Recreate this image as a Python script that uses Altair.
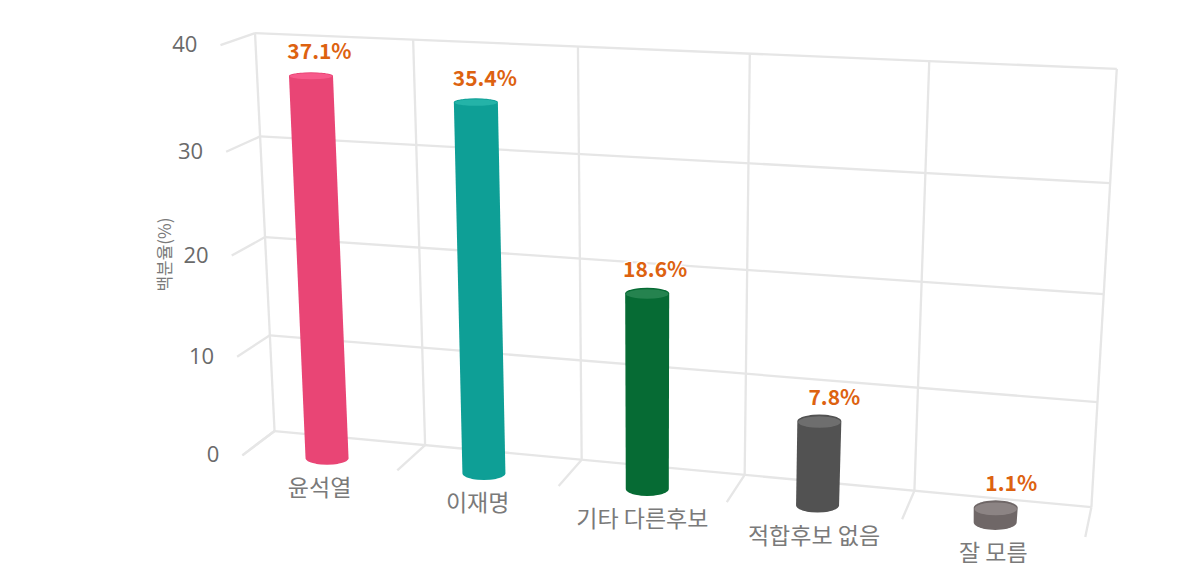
import numpy as np
import pandas as pd
import altair as alt

# ---- data
CATEGORIES = ["윤석열", "이재명", "기타 다른후보", "적합후보 없음", "잘 모름"]
VALUES = [37.1, 35.4, 18.6, 7.8, 1.1]
VALUE_LABELS = ["37.1%", "35.4%", "18.6%", "7.8%", "1.1%"]
BODY_COLORS = ["#E94575", "#0E9F96", "#066B34", "#525252", "#6F6767"]
TOP_COLORS = ["#F7598A", "#24B3A8", "#25834F", "#6E6E6E", "#8C8484"]
Y_TICKS = [0, 10, 20, 30, 40]
AXIS_TITLE = "백분율(%)"

# ---- style
FONT = "Noto Sans CJK KR"
TICK_FONT = "Open Sans"
GRID = "#E6E6E6"
TEXT = "#7A7A7A"
TICK_TEXT = "#6A6A6A"
ORANGE = "#DD6210"
W, H = 1184, 564
DEPTH = 0.74      # depth of the cylinders between back wall (0) and front edge (1)
R_DEPTH = 0.26    # cylinder radius along the depth axis
HALF_W = 22.0     # cylinder half-width in screen units
LABEL_SHIFT = [8.5, 9, 8, 15, 15.5]

# ---- camera: (category position, value, depth) -> screen, calibrated on the drawn box
calib = [
    ((0, 40, 0), (255, 31)), ((1, 40, 0), (413, 39)), ((2, 40, 0), (578, 47)),
    ((3, 40, 0), (750, 56)), ((4, 40, 0), (929, 60)), ((5, 40, 0), (1116, 68)),
    ((0, 0, 0), (275, 431)), ((1, 0, 0), (425, 444)), ((2, 0, 0), (582, 460)),
    ((3, 0, 0), (744, 475)), ((4, 0, 0), (914, 491)), ((5, 0, 0), (1092, 507)),
    ((0, 0, 1), (243, 456)), ((1, 0, 1), (397, 470)), ((2, 0, 1), (559, 486)),
    ((3, 0, 1), (726, 502)), ((4, 0, 1), (902, 518)), ((5, 0, 1), (1086, 537)),
    ((0, 30, 0), (260, 137)), ((5, 30, 0), (1110, 184)),
    ((0, 20, 0), (265, 238)), ((5, 20, 0), (1104, 295)),
    ((0, 10, 0), (270, 335)), ((5, 10, 0), (1098, 402)),
    ((0, 40, 1), (222, 43)), ((0, 30, 1), (226, 154)), ((0, 20, 1), (231, 257)),
    ((0, 10, 1), (236, 356)),
]
A, b = [], []
for (u, v, d), (sx, sy) in calib:
    A.append([u, v, d, 1, 0, 0, 0, 0, -sx * u, -sx * v, -sx * d])
    b.append(sx)
    A.append([0, 0, 0, 0, u, v, d, 1, -sy * u, -sy * v, -sy * d])
    b.append(sy)
m = np.linalg.lstsq(np.array(A, float), np.array(b, float), rcond=None)[0]
P = np.append(m, 1.0).reshape(3, 4)


def project(u, v, d):
    q = P @ np.array([u, v, d, 1.0])
    return q[0] / q[2], q[1] / q[2]


# ---- grid
segments = []
for i in range(len(CATEGORIES) + 1):
    segments.append((project(i, 0, 0), project(i, 40, 0)))
    segments.append((project(i, 0, 0), project(i, 0, 1)))
for t in Y_TICKS:
    segments.append((project(0, t, 0), project(5, t, 0)))
    segments.append((project(0, t, 0), project(0, t, 1)))
grid_df = pd.DataFrame(
    [{"x": a[0], "y": a[1], "x2": c[0], "y2": c[1]} for a, c in segments]
)

# ---- cylinders
theta = np.linspace(0, 1, 25)
body_rows, top_rows, label_rows = [], [], []
for i, (val, bc, tc) in enumerate(zip(VALUES, BODY_COLORS, TOP_COLORS)):
    u = i + 0.5
    xb, yb = project(u, 0, DEPTH)
    xt, yt = project(u, val, DEPTH)
    ryb = abs(project(u, 0, DEPTH + R_DEPTH)[1] - project(u, 0, DEPTH - R_DEPTH)[1]) / 2
    ryt = abs(project(u, val, DEPTH + R_DEPTH)[1] - project(u, val, DEPTH - R_DEPTH)[1]) / 2
    yb += 2.0
    yt -= 0.7
    hwb, hwt = HALF_W - 0.5, HALF_W
    # outline: top half ellipse, straight sides, bottom half ellipse
    for s in theta:
        y = yt - ryt * (1 - s)
        half = hwt * np.sqrt(max(0.0, 1 - (1 - s) ** 2))
        body_rows.append({"y": y, "xl": xt - half, "xr": xt + half, "c": bc})
    for s in theta:
        y = yb + ryb * s
        half = hwb * np.sqrt(max(0.0, 1 - s ** 2))
        body_rows.append({"y": y, "xl": xb - half, "xr": xb + half, "c": bc})
    # lit top face, a little inside the rim
    ry_in = ryt * 0.85
    cy = yt + ryt * 0.12
    hw_in = hwt - 0.8
    for s in np.linspace(-1, 1, 41):
        half = hw_in * np.sqrt(max(0.0, 1 - s ** 2))
        top_rows.append({"y": cy + ry_in * s, "xl": xt - half, "xr": xt + half, "c": tc})
    label_rows.append(
        {"x": xt + LABEL_SHIFT[i], "y": yt - 22.5, "t": VALUE_LABELS[i]}
    )

body_df = pd.DataFrame(body_rows)
top_df = pd.DataFrame(top_rows)
label_df = pd.DataFrame(label_rows)

# ---- axis-like text
cat_rows = []
for i, c in enumerate(CATEGORIES):
    x, y = project(i + 0.5, 0, 1)
    cat_rows.append({"x": x + 0.5, "y": y + 26, "t": c})
cat_df = pd.DataFrame(cat_rows)
tick_rows = []
for t in Y_TICKS:
    x, y = project(0, t, 1)
    tick_rows.append({"x": x - 23, "y": y, "t": str(t)})
tick_df = pd.DataFrame(tick_rows)
x_t, y_t = project(0, 20, 1)
title_df = pd.DataFrame([{"x": x_t - 66, "y": y_t - 1, "t": AXIS_TITLE}])

xs = alt.Scale(domain=[8, 8 + W], nice=False, zero=False)
ys = alt.Scale(domain=[8 + H, 8], nice=False, zero=False)
X = lambda f: alt.X(f, type="quantitative", scale=xs, axis=None)
Y = lambda f: alt.Y(f, type="quantitative", scale=ys, axis=None)

grid = alt.Chart(grid_df).mark_rule(color=GRID, strokeWidth=2.3).encode(
    x=X("x"), y=Y("y"), x2="x2", y2="y2"
)


def cyl(df):
    return alt.Chart(df).mark_area(orient="horizontal", interpolate="linear").encode(
        y=Y("y"),
        x=alt.X("xl", type="quantitative", scale=xs, axis=None, stack=None),
        x2="xr",
        color=alt.Color("c:N", scale=None, legend=None),
    )


body = cyl(body_df)
tops = cyl(top_df)


def text_layer(df, font=FONT, **kw):
    return alt.Chart(df).mark_text(font=font, **kw).encode(
        x=X("x"), y=Y("y"), text="t:N"
    )


halo = text_layer(label_df, fontSize=21, fontWeight="bold", color="white",
                  stroke="white", strokeWidth=3, align="center", baseline="middle")
vals = text_layer(label_df, fontSize=21, fontWeight="bold", color=ORANGE,
                  align="center", baseline="middle")
cats = text_layer(cat_df, fontSize=23, color=TEXT, align="center", baseline="middle")
ticks = text_layer(tick_df, font=TICK_FONT, fontSize=22, color=TICK_TEXT, align="right",
                   baseline="middle")
title = text_layer(title_df, fontSize=17, color=TEXT, angle=270, align="center",
                   baseline="middle")

chart = alt.layer(grid, body, tops, halo, vals, cats, ticks, title).properties(
    width=W, height=H, padding=0, background="white"
).configure_view(stroke=None)

chart.save("out.html", embed_options={"renderer": "svg", "actions": False})
